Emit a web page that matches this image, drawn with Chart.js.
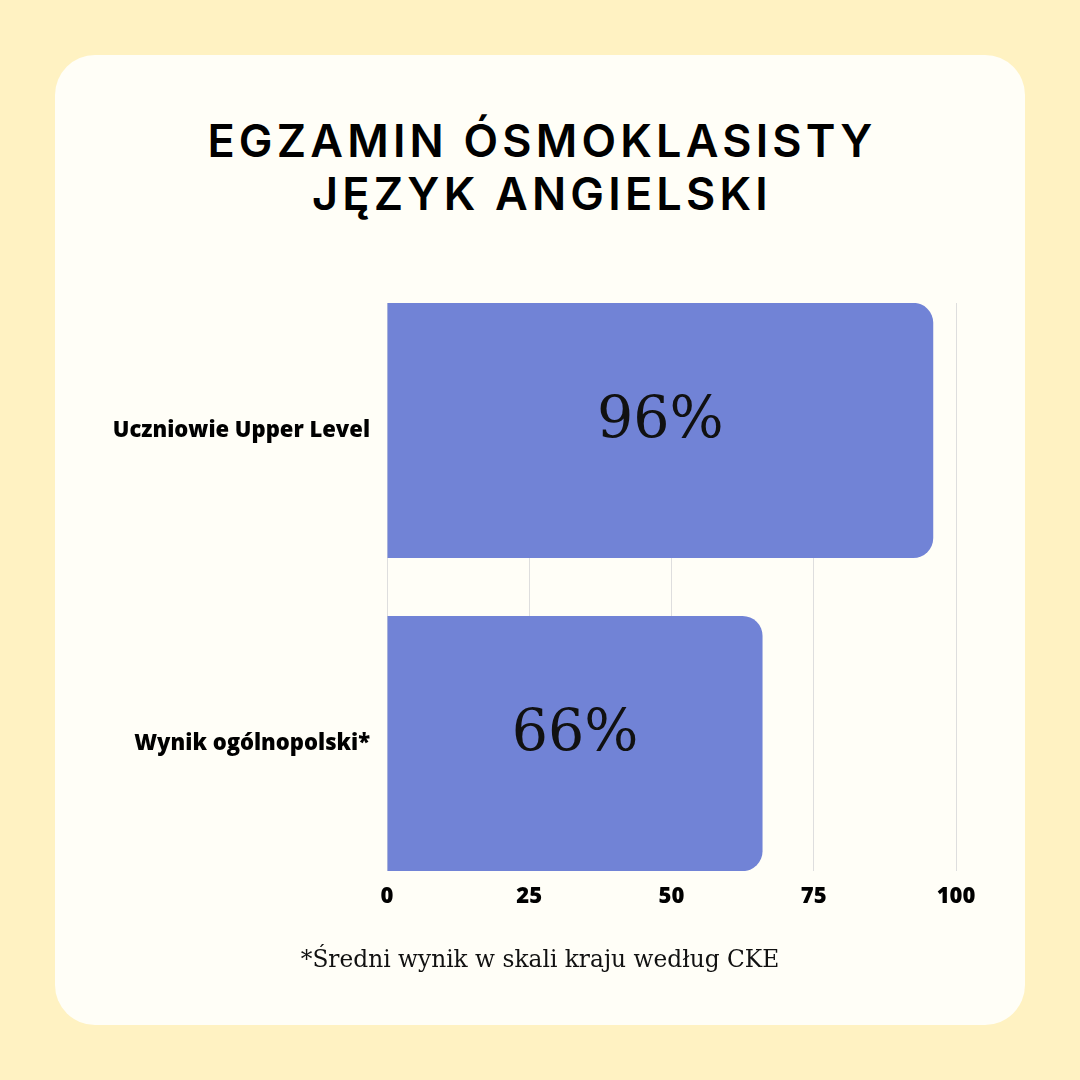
<!DOCTYPE html>
<html>
<head>
<meta charset="utf-8">
<script src="https://cdn.jsdelivr.net/npm/chart.js@4.4.1/dist/chart.umd.min.js"></script>
<style>
  html, body { margin: 0; padding: 0; }
  body { width: 1080px; height: 1080px; background: #fff2c2; position: relative; overflow: hidden; }
  .card { position: absolute; left: 55px; top: 55px; width: 970px; height: 970px; border-radius: 40px; background: #fffef7; }
  h1 { position: absolute; left: 0; top: 114px; width: 1080px; margin: 0; padding-left: 4px; box-sizing: border-box;
       text-align: center; font-family: Inter, sans-serif; font-weight: 600; font-size: 45px; line-height: 53px;
       letter-spacing: 4.2px; color: #000; }
  .note { position: absolute; left: 0; top: 945px; width: 1080px; margin: 0; text-align: center;
          font-family: "DejaVu Serif", serif; font-size: 23.3px; color: #111; }
  canvas { position: absolute; left: 0; top: 0; }
</style>
</head>
<body>
<div class="card"></div>
<h1>EGZAMIN ÓSMOKLASISTY<br>JĘZYK ANGIELSKI</h1>
<canvas id="chart" width="1080" height="1080"></canvas>
<p class="note">*Średni wynik w skali kraju według CKE</p>
<script>
// data
const categories = ['Uczniowie Upper Level', 'Wynik ogólnopolski*'];
const values = [96, 66];
const xTicks = [0, 25, 50, 75, 100];

const ctx = document.getElementById('chart').getContext('2d');

// percentage text in the middle of each bar
const barLabels = {
  id: 'barLabels',
  afterDatasetsDraw(chart) {
    const c = chart.ctx;
    const meta = chart.getDatasetMeta(0);
    c.save();
    c.font = '57px "DejaVu Serif"';
    c.fillStyle = '#111';
    c.textAlign = 'center';
    c.textBaseline = 'middle';
    meta.data.forEach((bar, i) => {
      c.fillText(values[i] + '%', (bar.x + bar.base) / 2, bar.y - 8);
    });
    c.restore();
  }
};

const config = {
  type: 'bar',
  data: {
    datasets: [{
      data: values.map((v, i) => ({ x: v, y: i })),
      backgroundColor: '#7183d6',
      borderRadius: 20,
      categoryPercentage: 1,
      barPercentage: 0.815
    }]
  },
  options: {
    indexAxis: 'y',
    responsive: false,
    animation: false,
    layout: {
      padding: { left: 97, right: 124, top: 303, bottom: 169 }
    },
    plugins: {
      legend: { display: false },
      tooltip: { enabled: false }
    },
    scales: {
      x: {
        type: 'linear',
        min: 0,
        max: 100,
        afterBuildTicks: s => { s.ticks = xTicks.map(v => ({ value: v })); },
        afterFit: s => { s.height = 40; },
        grid: { color: '#dedede', lineWidth: 1, drawTicks: false },
        border: { display: false },
        ticks: {
          padding: 13,
          color: '#000',
          font: { family: 'Open Sans', size: 22, weight: 800 }
        }
      },
      y: {
        type: 'linear',
        reverse: true,
        offset: false,
        min: -0.407,
        max: 1.407,
        afterBuildTicks: s => { s.ticks = categories.map((c, i) => ({ value: i })); },
        afterFit: s => { s.width = 290; },
        grid: { display: false, drawTicks: false, offset: false },
        border: { display: false },
        ticks: {
          padding: 17,
          color: '#000',
          font: { family: 'Open Sans', size: 22, weight: 800 },
          callback: v => categories[v]
        }
      }
    }
  },
  plugins: [barLabels]
};

const myChart = new Chart(ctx, config);
</script>
</body>
</html>
